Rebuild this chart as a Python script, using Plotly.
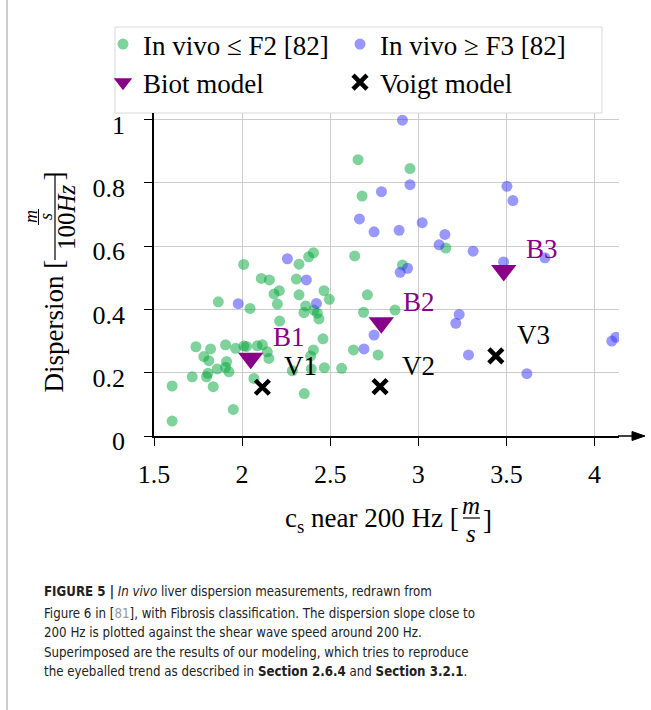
import plotly.graph_objects as go

# ---------------- data ----------------
green_x = [2.658, 2.681, 2.639, 2.009, 2.323, 2.378, 2.405, 2.109, 2.155, 2.308,
           2.953, 3.156, 2.910, 1.865, 2.045, 2.181, 2.211, 2.200, 2.323, 2.361,
           2.465, 2.495, 2.408, 2.427, 2.436, 2.351, 2.213, 2.459, 2.405, 2.389,
           2.467, 2.565, 2.393, 2.285, 2.353, 1.738, 1.821, 1.906, 1.963, 2.010,
           2.086, 2.115, 2.143, 2.152, 1.783, 1.811, 1.912, 1.859, 1.906, 1.925,
           1.717, 1.798, 1.806, 1.836, 1.603, 1.603, 1.950, 2.067, 2.711, 2.689,
           2.632, 2.772, 2.868, 2.025]
green_y = [0.873, 0.758, 0.569, 0.542, 0.543, 0.566, 0.579, 0.498, 0.493, 0.496,
           0.845, 0.594, 0.540, 0.424, 0.403, 0.449, 0.459, 0.417, 0.446, 0.411,
           0.459, 0.432, 0.398, 0.388, 0.370, 0.390, 0.363, 0.307, 0.272, 0.253,
           0.216, 0.214, 0.212, 0.206, 0.134, 0.282, 0.275, 0.288, 0.277, 0.284,
           0.285, 0.288, 0.266, 0.245, 0.251, 0.238, 0.235, 0.212, 0.217, 0.203,
           0.187, 0.187, 0.198, 0.156, 0.158, 0.047, 0.084, 0.182, 0.446, 0.391,
           0.272, 0.256, 0.398, 0.283]

blue_x = [2.791, 2.666, 2.749, 2.257, 2.365, 2.910, 2.953, 3.503, 3.537, 2.891,
          3.022, 3.151, 3.118, 3.311, 2.939, 2.897, 3.484, 3.719, 1.978, 2.422,
          2.749, 2.692, 3.232, 3.213, 3.285, 3.616, 4.122, 4.098]
blue_y = [0.772, 0.686, 0.645, 0.560, 0.493, 0.998, 0.794, 0.789, 0.744, 0.650,
          0.674, 0.637, 0.604, 0.584, 0.530, 0.517, 0.550, 0.563, 0.418, 0.419,
          0.319, 0.275, 0.384, 0.356, 0.256, 0.197, 0.312, 0.300]

biot_x = [2.049, 2.790, 3.485]
biot_y = [0.246, 0.358, 0.523]
biot_labels = ["B1", "B2", "B3"]

voigt_x = [2.115, 2.783, 3.440]
voigt_y = [0.154, 0.156, 0.253]
voigt_labels = ["V1", "V2", "V3"]

x_ticks = [1.5, 2, 2.5, 3, 3.5, 4]
x_ticktext = ["1.5", "2", "2.5", "3", "3.5", "4"]
y_ticks = [0, 0.2, 0.4, 0.6, 0.8, 1]
y_ticktext = ["0", "0.2", "0.4", "0.6", "0.8", "1"]

caption_lines = [
    "<b>FIGURE 5 |</b> <i>In vivo</i> liver dispersion measurements, redrawn from",
    "Figure 6 in [<span style='color:#999999'>81</span>], with Fibrosis classification. The dispersion slope close to",
    "200 Hz is plotted against the shear wave speed around 200 Hz.",
    "Superimposed are the results of our modeling, which tries to reproduce",
    "the eyeballed trend as described in <b>Section 2.6.4</b> and <b>Section 3.2.1</b>.",
]

# ---------------- layout geometry ----------------
W, H = 651, 710
L, R, T, B = 154, 32, 113, 274
PW = W - L - R
PH = H - T - B
BOT = H - B  # pixel y of plot bottom


def px(xp):
    return (xp - L) / PW


def py(yp):
    return (BOT - yp) / PH


SERIF = "Liberation Serif, Times New Roman, serif"
CAPFONT = "DejaVu Sans Condensed, Liberation Sans Narrow, Liberation Sans, sans-serif"
PURPLE = "#880088"

fig = go.Figure()

fig.add_trace(go.Scatter(
    x=green_x, y=green_y, mode="markers", name="In vivo \u2264 F2 [82]",
    marker=dict(size=11, color="rgb(0,165,55)", opacity=0.5, line=dict(width=0)),
))
fig.add_trace(go.Scatter(
    x=blue_x, y=blue_y, mode="markers", name="In vivo \u2265 F3 [82]",
    marker=dict(size=11, color="rgb(50,50,255)", opacity=0.5, line=dict(width=0)),
))
fig.add_trace(go.Scatter(
    x=biot_x, y=biot_y, mode="markers", name="Biot model",
    marker=dict(size=22, symbol="triangle-down", color=PURPLE, line=dict(width=0)),
))
fig.add_trace(go.Scatter(
    x=voigt_x, y=voigt_y, mode="markers", name="Voigt model",
    marker=dict(size=14, symbol="x-thin", color="black",
                line=dict(width=4.5, color="black")),
))

annotations = []
for xv, yv, t in zip(biot_x, biot_y, biot_labels):
    annotations.append(dict(x=xv, y=yv, xref="x", yref="y", text=t, showarrow=False,
                            xshift=38, yshift=21,
                            font=dict(family=SERIF, size=27, color=PURPLE)))
for xv, yv, t in zip(voigt_x, voigt_y, voigt_labels):
    annotations.append(dict(x=xv, y=yv, xref="x", yref="y", text=t, showarrow=False,
                            xshift=38, yshift=21,
                            font=dict(family=SERIF, size=27, color="black")))

# x-axis title built from pieces (with stacked fraction m/s)
annotations += [
    dict(x=px(461), y=py(520), xref="paper", yref="paper", xanchor="right", yanchor="middle",
         text="c<sub>s</sub> near 200 Hz [", showarrow=False,
         font=dict(family=SERIF, size=27, color="black")),
    dict(x=px(471), y=py(505), xref="paper", yref="paper", xanchor="center", yanchor="middle",
         text="<i>m</i>", showarrow=False, font=dict(family=SERIF, size=25, color="black")),
    dict(x=px(471), y=py(533), xref="paper", yref="paper", xanchor="center", yanchor="middle",
         text="<i>s</i>", showarrow=False, font=dict(family=SERIF, size=25, color="black")),
    dict(x=px(481), y=py(520), xref="paper", yref="paper", xanchor="left", yanchor="middle",
         text="]", showarrow=False, font=dict(family=SERIF, size=27, color="black")),
]

# y-axis title built from pieces (rotated)
annotations += [
    dict(x=px(53), y=py(395), xref="paper", yref="paper", xanchor="center", yanchor="bottom",
         text="Dispersion [", textangle=-90, showarrow=False,
         font=dict(family=SERIF, size=27, color="black")),
    dict(x=px(66), y=py(217), xref="paper", yref="paper", xanchor="center", yanchor="middle",
         text="100<i>Hz</i>", textangle=-90, showarrow=False,
         font=dict(family=SERIF, size=25, color="black")),
    dict(x=px(31), y=py(217), xref="paper", yref="paper", xanchor="center", yanchor="middle",
         text="<i>m</i>", textangle=-90, showarrow=False,
         font=dict(family=SERIF, size=18, color="black")),
    dict(x=px(46), y=py(217), xref="paper", yref="paper", xanchor="center", yanchor="middle",
         text="<i>s</i>", textangle=-90, showarrow=False,
         font=dict(family=SERIF, size=18, color="black")),
    dict(x=px(53), y=py(170), xref="paper", yref="paper", xanchor="center", yanchor="top",
         text="]", textangle=-90, showarrow=False,
         font=dict(family=SERIF, size=27, color="black")),
]

# caption
cap_centers = [592, 613, 632.5, 652, 671.5]
for line, cy in zip(caption_lines, cap_centers):
    annotations.append(dict(x=px(42), y=py(cy), xref="paper", yref="paper",
                            xanchor="left", yanchor="middle", text=line, showarrow=False,
                            font=dict(family=CAPFONT, size=13.2, color="#222222")))

arrow_path = "M {a},{b} L {c},{d} L {c},{e} Z".format(
    a=px(645), b=py(BOT), c=px(632), d=py(BOT - 4.5), e=py(BOT + 4.5))

shapes = [
    # left page border
    dict(type="line", xref="paper", yref="paper", x0=px(7), x1=px(7), y0=py(0), y1=py(H),
         line=dict(color="#9a9a9a", width=1)),
    # legend frame
    dict(type="rect", xref="paper", yref="paper", x0=px(115), x1=px(602), y0=py(113), y1=py(27),
         fillcolor="white", line=dict(color="#d9d9d9", width=1), layer="below"),
    # x fraction bar
    dict(type="line", xref="paper", yref="paper", x0=px(463), x1=px(480), y0=py(518), y1=py(518),
         line=dict(color="black", width=1.2)),
    # y big fraction bar
    dict(type="line", xref="paper", yref="paper", x0=px(55), x1=px(55), y0=py(260), y1=py(174),
         line=dict(color="black", width=1.2)),
    # y small fraction bar
    dict(type="line", xref="paper", yref="paper", x0=px(38.5), x1=px(38.5), y0=py(225), y1=py(209),
         line=dict(color="black", width=1)),
    # x axis extension with arrow head
    dict(type="line", xref="paper", yref="paper", x0=px(618), x1=px(634), y0=py(BOT), y1=py(BOT),
         line=dict(color="black", width=1.5)),
    dict(type="path", xref="paper", yref="paper", path=arrow_path,
         fillcolor="black", line=dict(color="black", width=1)),
]

fig.update_layout(
    width=W, height=H,
    margin=dict(l=L, r=R, t=T, b=B, autoexpand=False),
    paper_bgcolor="white", plot_bgcolor="white",
    font=dict(family=SERIF, size=26, color="black"),
    showlegend=True,
    legend=dict(
        orientation="h", x=px(103), y=py(20), xanchor="left", yanchor="top",
        bgcolor="rgba(0,0,0,0)", borderwidth=0,
        font=dict(family=SERIF, size=27, color="black"),
        entrywidth=192, entrywidthmode="pixels", itemsizing="trace",
        tracegroupgap=0,
    ),
    xaxis=dict(
        range=[1.5, 1.5 + PW / 176.2], tickvals=x_ticks, ticktext=x_ticktext,
        showgrid=True, gridcolor="#cccccc", gridwidth=1, zeroline=False,
        showline=True, linecolor="black", linewidth=1.5,
        ticks="outside", ticklen=8, tickcolor="black", tickwidth=1,
        tickfont=dict(family=SERIF, size=26, color="black"), ticklabelstandoff=6,
    ),
    yaxis=dict(
        range=[0, PH / 316.5], tickvals=y_ticks, ticktext=y_ticktext,
        showgrid=True, gridcolor="#cccccc", gridwidth=1, zeroline=False,
        showline=True, linecolor="black", linewidth=1.5,
        ticks="outside", ticklen=8, tickcolor="black", tickwidth=1,
        tickfont=dict(family=SERIF, size=26, color="black"), ticklabelstandoff=14,
        ticklabelshift=5,
    ),
    annotations=annotations,
    shapes=shapes,
)

fig.write_html("out.html", config={"displayModeBar": False},
               post_script="document.body.style.margin='0px';")
